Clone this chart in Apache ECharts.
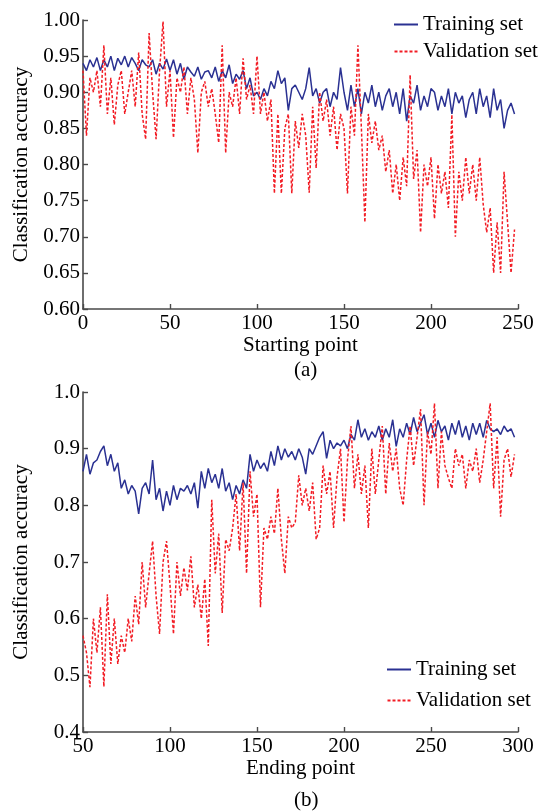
<!DOCTYPE html>
<html>
<head>
<meta charset="utf-8">
<script src="https://cdn.jsdelivr.net/npm/echarts@6/dist/echarts.min.js"></script>
<style>
html,body{margin:0;padding:0;background:#fff;}
#c{width:555px;height:812px;}
</style>
</head>
<body>
<div id="c"></div>
<script>
// Panel (a): x = starting point, sampled every 2 from 0
const topStart = 0, topStep = 2;
const topTraining = [
0.94,0.93,0.945,0.935,0.948,0.93,0.945,0.935,0.95,0.93,0.947,0.938,0.95,
0.935,0.948,0.94,0.93,0.945,0.938,0.935,0.945,0.925,0.94,0.932,0.946,
0.93,0.945,0.925,0.94,0.918,0.935,0.928,0.922,0.935,0.918,0.928,0.93,0.92,
0.935,0.915,0.93,0.92,0.938,0.912,0.925,0.918,0.93,0.905,0.92,0.895,
0.9,0.89,0.905,0.895,0.915,0.905,0.93,0.912,0.92,0.875,0.905,0.91,0.9,
0.89,0.905,0.934,0.895,0.905,0.885,0.9,0.905,0.88,0.9,0.89,0.934,
0.9,0.875,0.91,0.88,0.905,0.87,0.9,0.885,0.91,0.88,0.9,0.875,0.895,
0.905,0.88,0.9,0.87,0.905,0.86,0.895,0.885,0.91,0.875,0.895,0.88,
0.905,0.9,0.875,0.895,0.88,0.905,0.87,0.9,0.885,0.895,0.865,0.89,0.9,
0.87,0.905,0.88,0.895,0.865,0.905,0.875,0.89,0.85,0.875,0.885,0.87
];
const topValidation = [
0.93,0.84,0.92,0.9,0.93,0.88,0.965,0.87,0.92,0.855,0.91,0.93,0.87,
0.9,0.93,0.88,0.955,0.87,0.835,0.982,0.9,0.835,0.93,0.998,0.88,
0.93,0.837,0.92,0.9,0.935,0.87,0.92,0.89,0.816,0.9,0.915,0.88,0.905,
0.87,0.83,0.965,0.816,0.9,0.88,0.92,0.87,0.947,0.89,0.91,0.87,
0.95,0.87,0.9,0.86,0.89,0.76,0.87,0.76,0.85,0.87,0.76,0.86,0.823,
0.87,0.84,0.761,0.88,0.795,0.9,0.86,0.89,0.84,0.88,0.82,0.87,
0.85,0.76,0.88,0.84,0.965,0.85,0.72,0.87,0.83,0.86,0.82,0.84,0.79,
0.82,0.76,0.8,0.75,0.81,0.77,0.924,0.78,0.82,0.706,0.8,0.77,
0.81,0.725,0.8,0.76,0.79,0.74,0.869,0.7,0.79,0.75,0.81,0.76,0.8,
0.75,0.81,0.745,0.706,0.74,0.65,0.72,0.65,0.79,0.72,0.65,0.71
];
const topXTicks = [0, 250, 50];      // min, max, interval
const topYTicks = [0.60, 1.00, 0.05];

// Panel (b): x = ending point, sampled every 2 from 50
const botStart = 50, botStep = 2;
const botTraining = [
0.86,0.89,0.855,0.875,0.88,0.895,0.905,0.87,0.89,0.86,0.875,0.83,0.845,
0.82,0.835,0.825,0.785,0.83,0.84,0.82,0.88,0.81,0.83,0.79,0.825,
0.8,0.835,0.81,0.83,0.825,0.835,0.82,0.84,0.795,0.86,0.83,0.865,0.84,
0.855,0.83,0.865,0.825,0.84,0.81,0.835,0.82,0.845,0.83,0.89,0.86,
0.88,0.865,0.875,0.86,0.895,0.87,0.905,0.88,0.9,0.885,0.895,0.88,0.9,
0.885,0.855,0.9,0.89,0.905,0.92,0.93,0.883,0.915,0.9,0.91,0.905,
0.915,0.9,0.925,0.915,0.951,0.92,0.935,0.915,0.93,0.92,0.94,0.915,0.935,
0.92,0.951,0.904,0.935,0.92,0.945,0.925,0.955,0.93,0.945,0.96,0.925,
0.945,0.92,0.95,0.93,0.94,0.915,0.945,0.925,0.95,0.92,0.94,0.915,0.945,
0.925,0.945,0.92,0.95,0.935,0.93,0.935,0.925,0.94,0.93,0.935,0.92
];
const botValidation = [
0.57,0.54,0.479,0.6,0.54,0.62,0.48,0.643,0.52,0.6,0.52,0.57,0.54,
0.6,0.56,0.64,0.59,0.7,0.62,0.68,0.737,0.64,0.573,0.7,0.737,
0.66,0.573,0.7,0.64,0.69,0.65,0.71,0.62,0.66,0.6,0.67,0.552,0.81,
0.68,0.75,0.61,0.74,0.72,0.76,0.82,0.72,0.84,0.68,0.86,0.78,
0.82,0.62,0.76,0.74,0.78,0.75,0.83,0.74,0.68,0.78,0.76,0.77,0.853,
0.8,0.83,0.79,0.84,0.74,0.76,0.87,0.82,0.86,0.76,0.85,0.9,
0.77,0.88,0.94,0.83,0.89,0.82,0.87,0.76,0.9,0.82,0.88,0.94,0.82,
0.91,0.86,0.9,0.83,0.8,0.88,0.94,0.87,0.92,0.97,0.8,0.93,
0.89,0.98,0.83,0.93,0.87,0.848,0.83,0.9,0.87,0.89,0.83,0.88,0.86,
0.9,0.84,0.88,0.93,0.98,0.83,0.92,0.78,0.88,0.9,0.85,0.89
];
const botXTicks = [50, 300, 50];
const botYTicks = [0.4, 1.0, 0.1];

const seriesNames = ['Training set', 'Validation set'];
const panelLabels = ['(a)', '(b)'];
const xTitles = ['Starting point', 'Ending point'];
const yTitle = 'Classification accuracy';

const pairs = (arr, start, step) => arr.map((v, i) => [start + i * step, v]);

const FONT = '"Liberation Serif","Times New Roman",serif';
const FS = 21;
const AX = '#4a4a4a';
const BLUE = '#2a3192';
const RED = '#f21c24';

const ICON_SOLID = 'path://M0,0h24v2h-24z';
const ICON_DASH = 'path://M0,0h3v2h-3z M5,0h3v2h-3z M10,0h3v2h-3z M15,0h3v2h-3z M20,0h3v2h-3z';

function xAxis(gi, ticks, title, gap) {
  return {
    type: 'value', gridIndex: gi, min: ticks[0], max: ticks[1], interval: ticks[2],
    name: title, nameLocation: 'middle', nameGap: gap,
    nameTextStyle: {fontFamily: FONT, fontSize: FS, color: '#000'},
    axisLine: {lineStyle: {color: AX, width: 1.6}},
    axisTick: {inside: true, length: 5, lineStyle: {color: AX, width: 1.4}},
    axisLabel: {fontFamily: FONT, fontSize: FS, color: '#000', margin: 4},
    splitLine: {show: false}
  };
}
function yAxis(gi, ticks, digits) {
  return {
    type: 'value', gridIndex: gi, min: ticks[0], max: ticks[1], interval: ticks[2],
    name: yTitle, nameLocation: 'middle', nameGap: 51, nameRotate: 90,
    nameTextStyle: {fontFamily: FONT, fontSize: FS, color: '#000'},
    axisLine: {show: true, lineStyle: {color: AX, width: 1.6}},
    axisTick: {show: true, inside: true, length: 5, lineStyle: {color: AX, width: 1.4}},
    axisLabel: {fontFamily: FONT, fontSize: FS, color: '#000', margin: 3,
      formatter: v => v.toFixed(digits)},
    splitLine: {show: false}
  };
}
function lineSeries(name, data, gi, color, dashed) {
  return {
    name, type: 'line', xAxisIndex: gi, yAxisIndex: gi, data,
    showSymbol: false, symbol: 'none', animation: false,
    lineStyle: {color, width: 1.5, type: dashed ? [3, 2] : 'solid'},
    itemStyle: {color}
  };
}
function legend(left, top, gap) {
  return {
    orient: 'vertical', left, top, padding: 0, itemWidth: 24, itemHeight: 2, itemGap: gap,
    data: [{name: seriesNames[0], icon: ICON_SOLID}, {name: seriesNames[1], icon: ICON_DASH}],
    textStyle: {fontFamily: FONT, fontSize: FS, color: '#000', lineHeight: 21}
  };
}

const chart = echarts.init(document.getElementById('c'), null, {renderer: 'canvas'});
chart.setOption({
  animation: false,
  backgroundColor: '#fff',
  grid: [
    {left: 83, top: 20, width: 435, height: 289},
    {left: 83, top: 392, width: 435, height: 340}
  ],
  xAxis: [xAxis(0, topXTicks, xTitles[0], 23), xAxis(1, botXTicks, xTitles[1], 25)],
  yAxis: [yAxis(0, topYTicks, 2), yAxis(1, botYTicks, 1)],
  legend: [legend(394, 14, 6), legend(387, 659, 10)],
  graphic: [
    {type: 'text', left: 294, top: 360, style: {text: panelLabels[0], font: FS + 'px ' + FONT, fill: '#000'}},
    {type: 'text', left: 294, top: 790, style: {text: panelLabels[1], font: FS + 'px ' + FONT, fill: '#000'}}
  ],
  series: [
    lineSeries(seriesNames[0], pairs(topTraining, topStart, topStep), 0, BLUE, false),
    lineSeries(seriesNames[1], pairs(topValidation, topStart, topStep), 0, RED, true),
    lineSeries(seriesNames[0], pairs(botTraining, botStart, botStep), 1, BLUE, false),
    lineSeries(seriesNames[1], pairs(botValidation, botStart, botStep), 1, RED, true)
  ]
});
</script>
</body>
</html>
